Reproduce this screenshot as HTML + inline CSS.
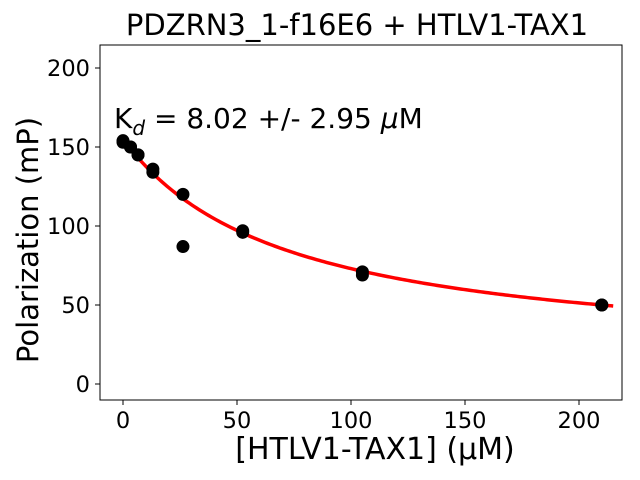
<!DOCTYPE html>
<html><head><meta charset="utf-8"><style>
body{margin:0;background:#fff}
svg{display:block;font-family:"DejaVu Sans","Liberation Sans",sans-serif}
</style></head><body>
<svg id="chart" width="640" height="480">
<text x="357" y="35" font-size="29" text-anchor="middle">PDZRN3_1-f16E6 + HTLV1-TAX1</text>
<g id="plot"></g>
<rect x="100" y="45" width="522" height="355" fill="none" stroke="#000" stroke-width="1"/>
<text x="114" y="128" font-size="28">K<tspan font-size="20" dy="7" font-style="italic">d</tspan><tspan dy="-7"> = 8.02 +/- 2.95 </tspan><tspan font-style="italic">μ</tspan>M</text>
<text x="375" y="459" font-size="30" text-anchor="middle">[HTLV1-TAX1] (μM)</text>
<text transform="translate(38,240) rotate(-90)" font-size="29" text-anchor="middle">Polarization (mP)</text>
</svg>
<script>
const concX=[0,0,3.3,3.3,6.6,6.6,13.1,13.1,26.3,26.3,52.5,52.5,105,105,210,210];
const polY=[154,153,150,150,145,145,136,134,120,87,97,96,71,69,50,50];
const xTicks=[0,50,100,150,200];
const yTicks=[0,50,100,150,200];
const fitTop=155, fitBottom=14, fitK=72, fitMax=215;
const NS="http://www.w3.org/2000/svg";
const g=document.getElementById('plot');
const svg=document.getElementById('chart');
function sx(v){return 123+v*2.28;}
function sy(v){return 384-v*1.58;}
function mk(t,a){const e=document.createElementNS(NS,t);for(const k in a)e.setAttribute(k,a[k]);return e;}
xTicks.forEach(t=>{
  const l=mk('line',{x1:sx(t),x2:sx(t),y1:400,y2:405,stroke:'#000'});
  
  
  svg.appendChild(l);
  const tx=mk('text',{x:sx(t),y:428,'font-size':22.5,'text-anchor':'middle'});
  tx.textContent=t;
  
  
  svg.appendChild(tx);
});
yTicks.forEach(t=>{
  const l=mk('line',{x1:95,x2:100,y1:sy(t),y2:sy(t),stroke:'#000'});
  
  
  svg.appendChild(l);
  const tx=mk('text',{x:90,y:sy(t)+8,'font-size':22.5,'text-anchor':'end'});
  tx.textContent=t;
  
  
  svg.appendChild(tx);
});
let d='';
for(let i=0;i<=200;i++){const x=fitMax*i/200;const y=fitBottom+(fitTop-fitBottom)*fitK/(fitK+x);d+=(i?'L':'M')+sx(x).toFixed(2)+','+sy(y).toFixed(2);}
const p=mk('path',{d:d,fill:'none',stroke:'#ff0000','stroke-width':3.5});


g.appendChild(p);
concX.forEach((x,i)=>{
  const c=mk('circle',{cx:sx(x),cy:sy(polY[i]),r:6.5,fill:'#000'});
  
  
  g.appendChild(c);
});
</script>
</body></html>
